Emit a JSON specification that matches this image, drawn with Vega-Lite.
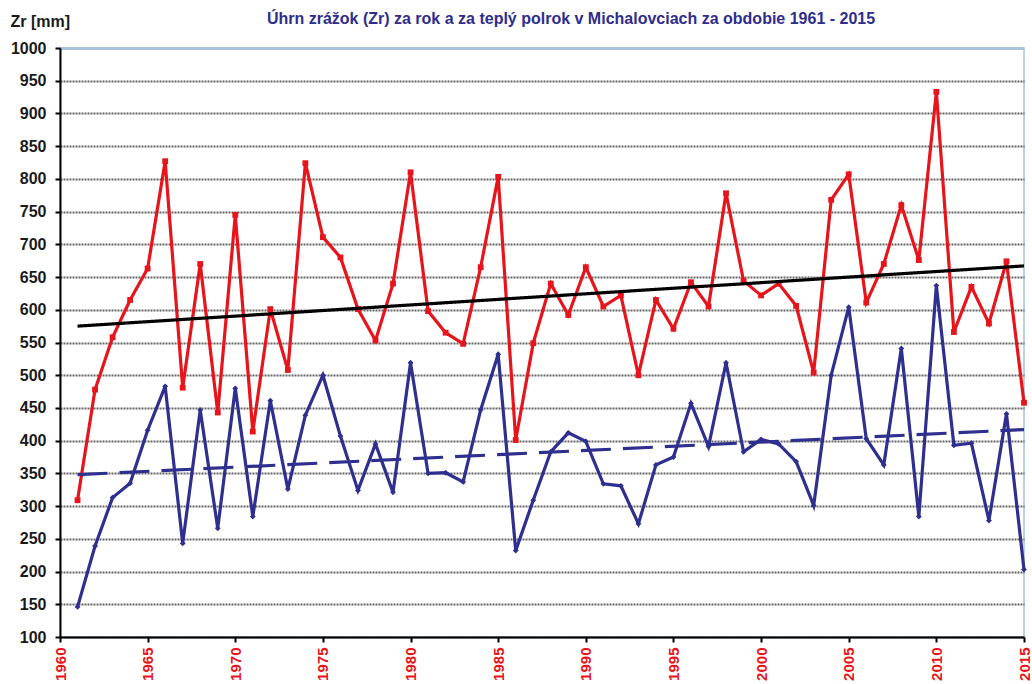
{
  "$schema": "https://vega.github.io/schema/vega-lite/v6.json",
  "width": 964,
  "height": 589,
  "autosize": {"type": "none"},
  "padding": {"left": 60, "top": 48, "right": 8, "bottom": 47},
  "background": "white",
  "config": {
    "font": "Liberation Sans",
    "view": {"stroke": "#A8C3D8", "strokeWidth": 1.5}
  },
  "title": {
    "text": "Úhrn zrážok (Zr) za rok a za teplý polrok v Michalovciach za obdobie 1961 - 2015",
    "font": "Liberation Sans",
    "fontSize": 16,
    "fontWeight": "bold",
    "color": "#2E2D8C",
    "anchor": "middle",
    "dx": 29,
    "offset": -14
  },
  "datasets": {
    "main": [
      {"year": 1961, "zr": 309, "s": "rok"}, {"year": 1962, "zr": 478, "s": "rok"}, {"year": 1963, "zr": 558, "s": "rok"}, {"year": 1964, "zr": 615, "s": "rok"}, {"year": 1965, "zr": 663, "s": "rok"},
      {"year": 1966, "zr": 827, "s": "rok"}, {"year": 1967, "zr": 481, "s": "rok"}, {"year": 1968, "zr": 670, "s": "rok"}, {"year": 1969, "zr": 443, "s": "rok"}, {"year": 1970, "zr": 745, "s": "rok"},
      {"year": 1971, "zr": 414, "s": "rok"}, {"year": 1972, "zr": 601, "s": "rok"}, {"year": 1973, "zr": 508, "s": "rok"}, {"year": 1974, "zr": 824, "s": "rok"}, {"year": 1975, "zr": 711, "s": "rok"},
      {"year": 1976, "zr": 680, "s": "rok"}, {"year": 1977, "zr": 601, "s": "rok"}, {"year": 1978, "zr": 553, "s": "rok"}, {"year": 1979, "zr": 640, "s": "rok"}, {"year": 1980, "zr": 810, "s": "rok"},
      {"year": 1981, "zr": 598, "s": "rok"}, {"year": 1982, "zr": 565, "s": "rok"}, {"year": 1983, "zr": 548, "s": "rok"}, {"year": 1984, "zr": 665, "s": "rok"}, {"year": 1985, "zr": 803, "s": "rok"},
      {"year": 1986, "zr": 401, "s": "rok"}, {"year": 1987, "zr": 549, "s": "rok"}, {"year": 1988, "zr": 640, "s": "rok"}, {"year": 1989, "zr": 592, "s": "rok"}, {"year": 1990, "zr": 665, "s": "rok"},
      {"year": 1991, "zr": 605, "s": "rok"}, {"year": 1992, "zr": 622, "s": "rok"}, {"year": 1993, "zr": 500, "s": "rok"}, {"year": 1994, "zr": 615, "s": "rok"}, {"year": 1995, "zr": 571, "s": "rok"},
      {"year": 1996, "zr": 642, "s": "rok"}, {"year": 1997, "zr": 605, "s": "rok"}, {"year": 1998, "zr": 778, "s": "rok"}, {"year": 1999, "zr": 644, "s": "rok"}, {"year": 2000, "zr": 622, "s": "rok"},
      {"year": 2001, "zr": 640, "s": "rok"}, {"year": 2002, "zr": 606, "s": "rok"}, {"year": 2003, "zr": 504, "s": "rok"}, {"year": 2004, "zr": 768, "s": "rok"}, {"year": 2005, "zr": 807, "s": "rok"},
      {"year": 2006, "zr": 611, "s": "rok"}, {"year": 2007, "zr": 670, "s": "rok"}, {"year": 2008, "zr": 760, "s": "rok"}, {"year": 2009, "zr": 676, "s": "rok"}, {"year": 2010, "zr": 933, "s": "rok"},
      {"year": 2011, "zr": 566, "s": "rok"}, {"year": 2012, "zr": 635, "s": "rok"}, {"year": 2013, "zr": 579, "s": "rok"}, {"year": 2014, "zr": 674, "s": "rok"}, {"year": 2015, "zr": 458, "s": "rok"},
      {"year": 1961, "zr": 146, "s": "teplý polrok"}, {"year": 1962, "zr": 239, "s": "teplý polrok"}, {"year": 1963, "zr": 313, "s": "teplý polrok"}, {"year": 1964, "zr": 335, "s": "teplý polrok"}, {"year": 1965, "zr": 416, "s": "teplý polrok"},
      {"year": 1966, "zr": 483, "s": "teplý polrok"}, {"year": 1967, "zr": 243, "s": "teplý polrok"}, {"year": 1968, "zr": 447, "s": "teplý polrok"}, {"year": 1969, "zr": 266, "s": "teplý polrok"}, {"year": 1970, "zr": 480, "s": "teplý polrok"},
      {"year": 1971, "zr": 284, "s": "teplý polrok"}, {"year": 1972, "zr": 461, "s": "teplý polrok"}, {"year": 1973, "zr": 326, "s": "teplý polrok"}, {"year": 1974, "zr": 439, "s": "teplý polrok"}, {"year": 1975, "zr": 500, "s": "teplý polrok"},
      {"year": 1976, "zr": 407, "s": "teplý polrok"}, {"year": 1977, "zr": 324, "s": "teplý polrok"}, {"year": 1978, "zr": 395, "s": "teplý polrok"}, {"year": 1979, "zr": 321, "s": "teplý polrok"}, {"year": 1980, "zr": 519, "s": "teplý polrok"},
      {"year": 1981, "zr": 350, "s": "teplý polrok"}, {"year": 1982, "zr": 351, "s": "teplý polrok"}, {"year": 1983, "zr": 337, "s": "teplý polrok"}, {"year": 1984, "zr": 447, "s": "teplý polrok"}, {"year": 1985, "zr": 532, "s": "teplý polrok"},
      {"year": 1986, "zr": 232, "s": "teplý polrok"}, {"year": 1987, "zr": 309, "s": "teplý polrok"}, {"year": 1988, "zr": 383, "s": "teplý polrok"}, {"year": 1989, "zr": 412, "s": "teplý polrok"}, {"year": 1990, "zr": 399, "s": "teplý polrok"},
      {"year": 1991, "zr": 334, "s": "teplý polrok"}, {"year": 1992, "zr": 331, "s": "teplý polrok"}, {"year": 1993, "zr": 273, "s": "teplý polrok"}, {"year": 1994, "zr": 363, "s": "teplý polrok"}, {"year": 1995, "zr": 375, "s": "teplý polrok"},
      {"year": 1996, "zr": 457, "s": "teplý polrok"}, {"year": 1997, "zr": 391, "s": "teplý polrok"}, {"year": 1998, "zr": 519, "s": "teplý polrok"}, {"year": 1999, "zr": 383, "s": "teplý polrok"}, {"year": 2000, "zr": 402, "s": "teplý polrok"},
      {"year": 2001, "zr": 395, "s": "teplý polrok"}, {"year": 2002, "zr": 368, "s": "teplý polrok"}, {"year": 2003, "zr": 301, "s": "teplý polrok"}, {"year": 2004, "zr": 500, "s": "teplý polrok"}, {"year": 2005, "zr": 604, "s": "teplý polrok"},
      {"year": 2006, "zr": 403, "s": "teplý polrok"}, {"year": 2007, "zr": 363, "s": "teplý polrok"}, {"year": 2008, "zr": 541, "s": "teplý polrok"}, {"year": 2009, "zr": 284, "s": "teplý polrok"}, {"year": 2010, "zr": 637, "s": "teplý polrok"},
      {"year": 2011, "zr": 393, "s": "teplý polrok"}, {"year": 2012, "zr": 396, "s": "teplý polrok"}, {"year": 2013, "zr": 278, "s": "teplý polrok"}, {"year": 2014, "zr": 441, "s": "teplý polrok"}, {"year": 2015, "zr": 203, "s": "teplý polrok"}
    ],
    "trend": [
      {"year": 1961, "zr": 575, "t": "trend rok"}, {"year": 2015, "zr": 667, "t": "trend rok"},
      {"year": 1961, "zr": 348, "t": "trend teplý polrok"}, {"year": 2015, "zr": 417, "t": "trend teplý polrok"}
    ]
  },
  "encoding": {
    "x": {
      "field": "year", "type": "quantitative",
      "scale": {"domain": [1960, 2015], "nice": false, "zero": false},
      "axis": {
        "title": null,
        "values": [1960, 1965, 1970, 1975, 1980, 1985, 1990, 1995, 2000, 2005, 2010, 2015],
        "format": "d",
        "labelAngle": -90,
        "labelAlign": "right",
        "labelBaseline": "middle",
        "labelFont": "Liberation Sans",
        "labelFontSize": 15,
        "labelFontWeight": "bold",
        "labelColor": "#E8141B",
        "labelPadding": 5,
        "labelOverlap": false,
        "labelFlush": false,
        "grid": false,
        "domainColor": "#000000",
        "domainWidth": 2,
        "tickColor": "#000000",
        "tickWidth": 2,
        "tickSize": 5
      }
    },
    "y": {
      "field": "zr", "type": "quantitative",
      "scale": {"domain": [100, 1000], "nice": false, "zero": false},
      "axis": {
        "title": "Zr [mm]",
        "titleAngle": 0,
        "titleX": -50,
        "titleY": -22,
        "titleAlign": "left",
        "titleBaseline": "alphabetic",
        "titleFont": "Liberation Sans",
        "titleFontSize": 16,
        "titleFontWeight": "bold",
        "titleColor": "#1a1a1a",
        "values": [100, 150, 200, 250, 300, 350, 400, 450, 500, 550, 600, 650, 700, 750, 800, 850, 900, 950, 1000],
        "format": "d",
        "labelFont": "Liberation Sans",
        "labelFontSize": 16,
        "labelFontWeight": "bold",
        "labelColor": "#1a1a1a",
        "labelPadding": 9,
        "labelFlush": false,
        "labelOverlap": false,
        "domainColor": "#000000",
        "domainWidth": 2,
        "tickColor": "#000000",
        "tickWidth": 2,
        "tickSize": 5,
        "grid": true,
        "gridColor": {"condition": {"test": "datum.value === 1000", "value": "#A8C3D8"}, "value": "#666666"},
        "gridDash": {"condition": {"test": "datum.value === 1000", "value": []}, "value": [2, 1]},
        "gridWidth": {"condition": {"test": "datum.value === 1000", "value": 3}, "value": 2}
      }
    }
  },
  "layer": [
    {
      "data": {"name": "main"},
      "mark": {"type": "line", "strokeWidth": 3.2},
      "encoding": {
        "color": {"field": "s", "type": "nominal", "scale": {"domain": ["rok", "teplý polrok"], "range": ["#E8141B", "#2E2F8E"]}, "legend": null}
      }
    },
    {
      "data": {"name": "main"},
      "mark": {"type": "point", "filled": true, "size": 34, "opacity": 1},
      "encoding": {
        "color": {"field": "s", "type": "nominal", "scale": {"domain": ["rok", "teplý polrok"], "range": ["#E8141B", "#2E2F8E"]}, "legend": null},
        "shape": {"field": "s", "type": "nominal", "scale": {"domain": ["rok", "teplý polrok"], "range": ["square", "diamond"]}, "legend": null}
      }
    },
    {
      "data": {"name": "trend"},
      "mark": {"type": "line", "strokeWidth": 3.2},
      "encoding": {
        "stroke": {"field": "t", "type": "nominal", "scale": {"domain": ["trend rok", "trend teplý polrok"], "range": ["#000000", "#2E2F8E"]}, "legend": null},
        "strokeDash": {"field": "t", "type": "nominal", "scale": {"domain": ["trend rok", "trend teplý polrok"], "range": [[1, 0], [30, 12]]}, "legend": null}
      }
    }
  ],
  "resolve": {"scale": {"color": "shared", "stroke": "independent"}}
}
